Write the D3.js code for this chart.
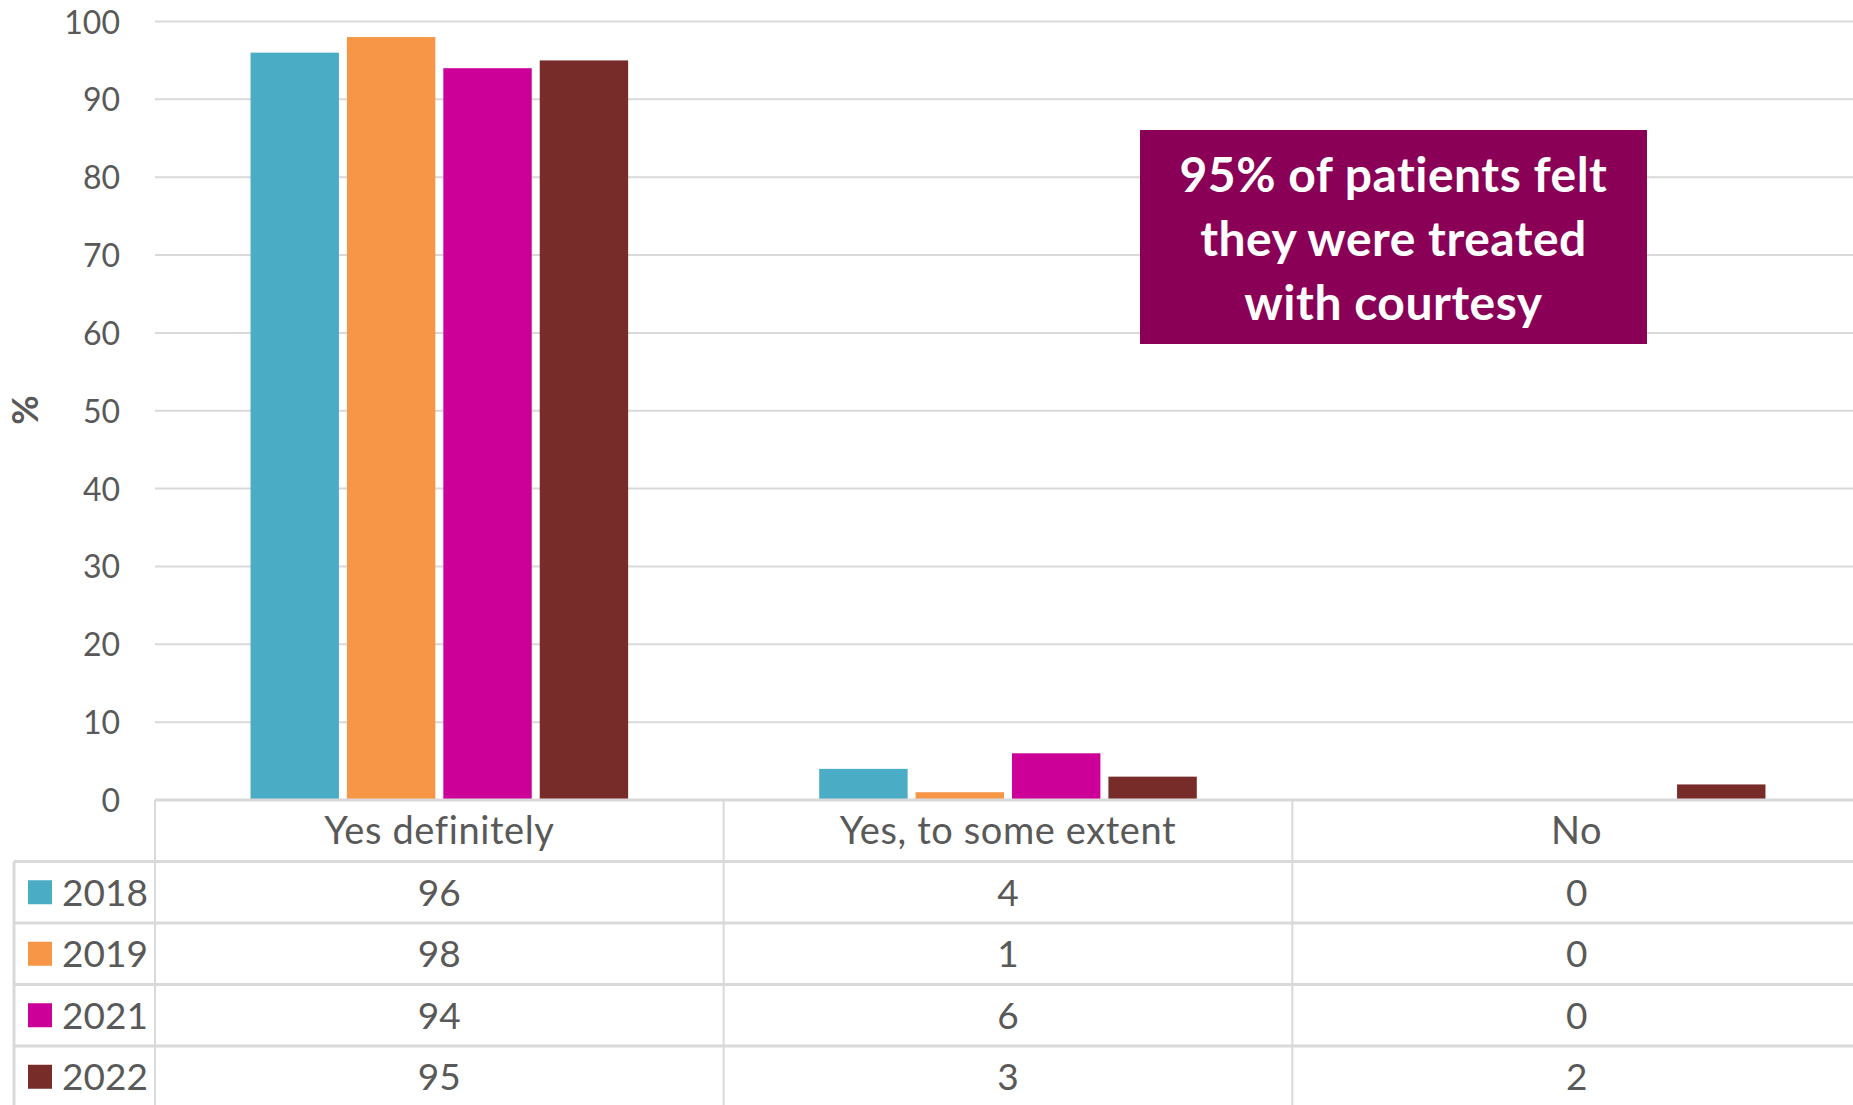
<!DOCTYPE html>
<html>
<head>
<meta charset="utf-8">
<script src="https://cdn.jsdelivr.net/npm/d3@7"></script>
<style>
  html, body { margin: 0; padding: 0; background: #fff; }
  svg { display: block; }
  text { font-family: Lato, "Open Sans", sans-serif; }
</style>
</head>
<body>
<svg id="chart" width="1853" height="1105"></svg>
<script>
// ---- data ----
const categories = ["Yes definitely", "Yes, to some extent", "No"];
const years = ["2018", "2019", "2021", "2022"];
const values2018 = [96, 4, 0];
const values2019 = [98, 1, 0];
const values2021 = [94, 6, 0];
const values2022 = [95, 3, 2];
const yTicks = [0, 10, 20, 30, 40, 50, 60, 70, 80, 90, 100];
const yTitle = "%";
const calloutLines = ["95% of patients felt", "they were treated", "with courtesy"];

const seriesValues = [values2018, values2019, values2021, values2022];
const colors = ["#4BACC6", "#F79646", "#CC0099", "#772C2A"];

// ---- layout ----
const W = 1853, H = 1105;
const plotLeft = 155, plotRight = 1861;
const yBottom = 800, yTop = 21.5;
const rowH = 61.5;
const legendLeft = 14;
const grid = "#D9D9D9";
const textCol = "#595959";

const svg = d3.select("#chart");

const x = d3.scaleBand().domain(categories).range([plotLeft, plotRight]).padding(0);
const bw = x.bandwidth();
const xInner = d3.scaleBand().domain(years)
  .range([bw * 0.168, bw * 0.832]).paddingInner(0.083).paddingOuter(0);
const y = d3.scaleLinear().domain([0, 100]).range([yBottom, yTop]);

// gridlines
svg.append("g").selectAll("line").data(yTicks.filter(t => t > 0)).join("line")
  .attr("x1", plotLeft).attr("x2", plotRight)
  .attr("y1", d => y(d)).attr("y2", d => y(d))
  .attr("stroke", grid).attr("stroke-width", 2);

// y axis labels
const yAxis = d3.axisLeft(y).tickValues(yTicks).tickSize(0).tickPadding(0);
const gy = svg.append("g").attr("transform", `translate(120,0)`).call(yAxis);
gy.select(".domain").remove();
gy.selectAll("text").attr("font-size", 32).attr("fill", textCol)
  .attr("font-family", "Lato, sans-serif").attr("dy", "0.36em");

// y title
svg.append("text")
  .attr("transform", `translate(38,410) rotate(-90)`)
  .attr("text-anchor", "middle")
  .attr("font-size", 36).attr("font-weight", "bold").attr("fill", textCol)
  .text(yTitle);

// bars
const groups = svg.append("g").selectAll("g").data(years).join("g");
groups.each(function(yr, si) {
  d3.select(this).selectAll("rect")
    .data(categories.map((c, ci) => ({c, v: seriesValues[si][ci]})).filter(d => d.v > 0))
    .join("rect")
    .attr("x", d => x(d.c) + xInner(yr))
    .attr("width", xInner.bandwidth())
    .attr("y", d => y(d.v))
    .attr("height", d => y(0) - y(d.v))
    .attr("fill", colors[si]);
});

// ---- data table ----
const tbl = svg.append("g");
tbl.append("line").attr("x1", plotLeft).attr("x2", plotRight)
  .attr("y1", yBottom).attr("y2", yBottom).attr("stroke", grid).attr("stroke-width", 3);
for (let i = 1; i <= years.length; i++) {
  const yy = yBottom + rowH * i;
  tbl.append("line").attr("x1", legendLeft).attr("x2", plotRight)
    .attr("y1", yy).attr("y2", yy).attr("stroke", grid).attr("stroke-width", 3);
}
categories.forEach(c => {
  tbl.append("line").attr("x1", x(c)).attr("x2", x(c))
    .attr("y1", yBottom).attr("y2", H).attr("stroke", grid).attr("stroke-width", 2);
});
tbl.append("line").attr("x1", legendLeft).attr("x2", legendLeft)
  .attr("y1", yBottom + rowH).attr("y2", H).attr("stroke", grid).attr("stroke-width", 3);

// header labels
tbl.selectAll("text.hdr").data(categories).join("text").attr("class", "hdr")
  .attr("x", d => x(d) + bw / 2).attr("y", yBottom + rowH / 2)
  .attr("dy", "0.36em").attr("text-anchor", "middle")
  .attr("font-size", 38).attr("letter-spacing", 0.6).attr("fill", textCol).text(d => d);

// rows
years.forEach((yr, si) => {
  const cy = yBottom + rowH * (si + 1) + rowH / 2;
  tbl.append("rect").attr("x", 28).attr("y", cy - 12).attr("width", 24).attr("height", 24)
    .attr("fill", colors[si]);
  tbl.append("text").attr("x", 62).attr("y", cy).attr("dy", "0.36em")
    .attr("font-size", 37).attr("fill", textCol).text(yr);
  tbl.selectAll(null).data(categories).join("text")
    .attr("x", d => x(d) + bw / 2).attr("y", cy).attr("dy", "0.36em")
    .attr("text-anchor", "middle").attr("font-size", 37).attr("fill", textCol)
    .text((d, ci) => seriesValues[si][ci]);
});

// ---- callout ----
const box = svg.append("g");
box.append("rect").attr("x", 1140).attr("y", 130).attr("width", 507).attr("height", 214)
  .attr("fill", "#8B0057");
box.selectAll("text").data(calloutLines).join("text")
  .attr("x", 1393.5).attr("y", (d, i) => 192 + i * 64)
  .attr("text-anchor", "middle").attr("font-size", 48).attr("font-weight", "bold")
  .attr("letter-spacing", 0.5)
  .attr("fill", "#fff").text(d => d);
</script>
</body>
</html>
